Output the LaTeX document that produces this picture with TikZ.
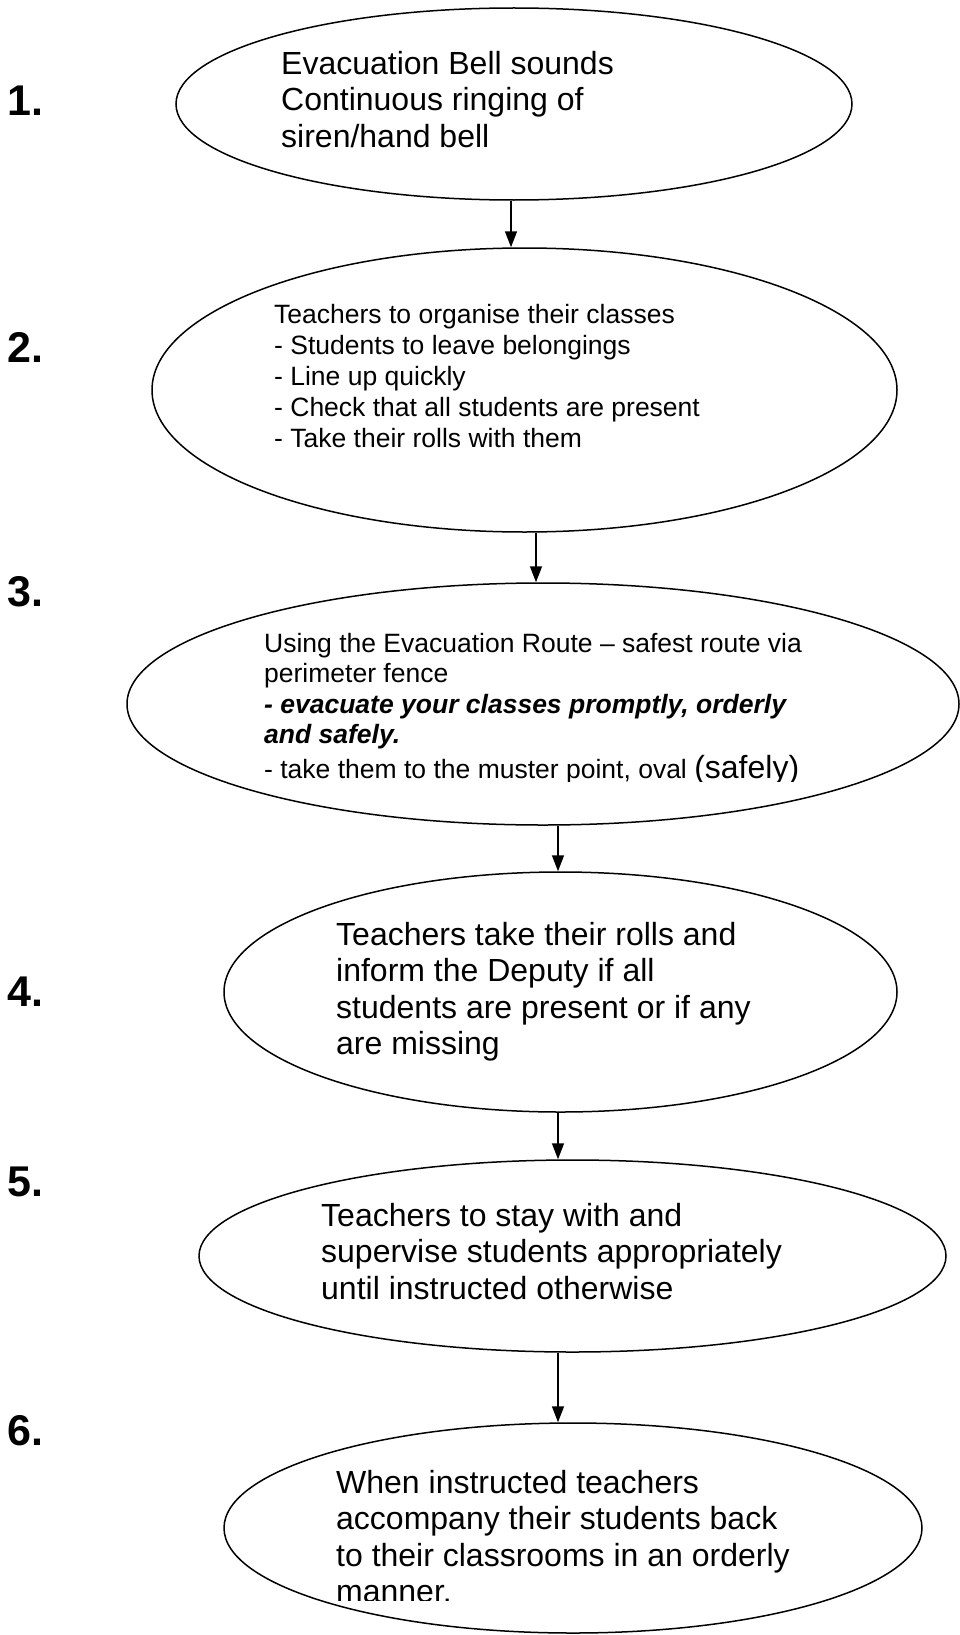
\documentclass[tikz,border=0pt]{standalone}
\usepackage{fontspec}
\setmainfont{Liberation Sans}
\usetikzlibrary{shapes.geometric,arrows.meta}

\begin{document}
\begin{tikzpicture}[x=1pt,y=-1pt,
  >={Triangle[length=16pt,width=12pt]},
  oval/.style={draw,ellipse,line width=1.5pt,inner sep=0pt},
  words/.style={anchor=north west,align=left,inner sep=0pt},
  big/.style={font=\fontsize{32}{36.5}\selectfont},
  num/.style={font=\fontsize{43}{48}\selectfont\bfseries,inner sep=0pt,anchor=west}]

\useasboundingbox (0,0) rectangle (960,1635);

\node[num] (n1) at (7,101) {1.};
\node[num] (n2) at (7,347) {2.};
\node[num] (n3) at (7,592) {3.};
\node[num] (n4) at (7,992) {4.};
\node[num] (n5) at (7,1182) {5.};
\node[num] (n6) at (7,1431) {6.};

\node[oval,minimum width=676pt,minimum height=192pt] (e1) at (514,104) {};

\node[oval,minimum width=745pt,minimum height=284pt] (e2) at (524.5,390) {};

\node[oval,minimum width=832pt,minimum height=242pt] (e3) at (543,704) {};

\node[oval,minimum width=673pt,minimum height=240pt] (e4) at (560.5,992) {};

\node[oval,minimum width=747pt,minimum height=192pt] (e5) at (572.5,1256) {};

\node[oval,minimum width=698pt,minimum height=210pt] (e6) at (573,1528) {};

\node[words,big] (t1) at (281,51)
  {Evacuation Bell sounds\\Continuous ringing of\\siren/hand bell};

\node[words,font=\fontsize{26.5}{31}\selectfont] (t2) at (274,304)
  {Teachers to organise their classes\\- Students to leave belongings\\- Line up quickly\\- Check that all students are present\\- Take their rolls with them};

% last lines are cut off at the bottom
\begin{scope}
\clip (0,600) rectangle (960,781);
\node[words,font=\fontsize{26.5}{30.5}\selectfont] (t3) at (264,633)
  {Using the Evacuation Route -- safest route via\\perimeter fence\\\textbf{\textit{- evacuate your classes promptly, orderly}}\\\textbf{\textit{and safely.}}\\[4pt]- take them to the muster point, oval {\fontsize{32}{36}\selectfont(safely)}};
\end{scope}

\node[words,big] (t4) at (336,922)
  {Teachers take their rolls and\\inform the Deputy if all\\students are present or if any\\are missing};

\node[words,big] (t5) at (321,1203)
  {Teachers to stay with and\\supervise students appropriately\\until instructed otherwise};

\begin{scope}
\clip (0,1440) rectangle (960,1600);
\node[words,big] (t6) at (336,1470)
  {When instructed teachers\\accompany their students back\\to their classrooms in an orderly\\manner.};
\end{scope}

\draw[->,line width=1.5pt] ([xshift=-3pt]e1.south) -- ([xshift=-13.5pt]e2.north);
\draw[->,line width=1.5pt] ([xshift=11.5pt]e2.south) -- ([xshift=-7pt]e3.north);
\draw[->,line width=1.5pt] ([xshift=15pt]e3.south) -- ([xshift=-2.5pt]e4.north);
\draw[->,line width=1.5pt] ([xshift=-2.5pt]e4.south) -- ([xshift=-14.5pt]e5.north);
\draw[->,line width=1.5pt] ([xshift=-14.5pt]e5.south) -- ([xshift=-15pt]e6.north);

\end{tikzpicture}
\end{document}
